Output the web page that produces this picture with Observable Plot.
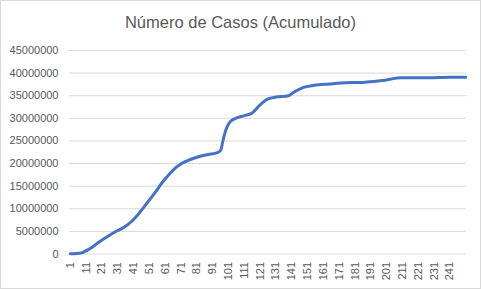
<!DOCTYPE html>
<html>
<head>
<meta charset="utf-8">
<script src="https://cdn.jsdelivr.net/npm/d3@7"></script>
<script src="https://cdn.jsdelivr.net/npm/@observablehq/plot@0.6"></script>
<style>
  html, body { margin: 0; padding: 0; background: #fff; }
  #chart { position: relative; width: 481px; height: 289px; overflow: hidden; background: #fff; }
  #title { position: absolute; left: 0; top: 0; width: 481px; height: 40px; text-align: center;
           font-family: "Liberation Sans", Arial, sans-serif; font-size: 16.5px; color: #595959; line-height: 44px; }
  #plot { position: absolute; left: 0; top: 40px; }
  #border { position: absolute; left: 0; top: 0; width: 481px; height: 289px; box-sizing: border-box;
            border: 1px solid #d9d9d9; pointer-events: none; }
</style>
</head>
<body>
<div id="chart">
  <div id="title">Número de Casos (Acumulado)</div>
  <div id="plot"></div>
  <div id="border"></div>
</div>
<script>
// Values (day, cumulative cases)
const days   = [1, 5, 8, 13, 19, 25, 31, 35, 40, 44, 48, 54, 60, 64, 67, 70, 73, 81, 88, 94, 96, 98, 100, 102, 105, 111, 116, 121, 126, 131, 139, 142, 148, 155, 165, 172, 187, 201, 210, 227, 241, 251];
const cases  = [50000, 100000, 250000, 1100000, 2600000, 4000000, 5200000, 5900000, 7300000, 8800000, 10600000, 13300000, 16200000, 17800000, 18900000, 19700000, 20300000, 21400000, 22000000, 22400000, 22900000, 25800000, 28000000, 29200000, 29900000, 30600000, 31200000, 33000000, 34300000, 34700000, 35000000, 35700000, 36800000, 37300000, 37600000, 37800000, 38000000, 38500000, 39000000, 39000000, 39100000, 39100000];
const xTicks = [1, 11, 21, 31, 41, 51, 61, 71, 81, 91, 101, 111, 121, 131, 141, 151, 161, 171, 181, 191, 201, 211, 221, 231, 241];
const yTicks = [0, 5000000, 10000000, 15000000, 20000000, 25000000, 30000000, 35000000, 40000000, 45000000];
const nDays = 251;

const data = days.map((d, i) => ({day: d, value: cases[i]}));

const chart = Plot.plot({
  width: 481,
  height: 249,
  marginLeft: 69,
  marginRight: 15,
  marginTop: 10,
  marginBottom: 35.5,
  style: {fontFamily: "'Liberation Sans', Arial, sans-serif", fontSize: "11px", color: "#595959", background: "transparent"},
  x: {domain: [0.5, nDays + 0.5]},
  y: {domain: [0, 45000000]},
  marks: [
    Plot.gridY(yTicks, {stroke: "#d9d9d9", strokeOpacity: 1, strokeWidth: 1}),
    Plot.axisY(yTicks, {tickSize: 0, tickPadding: 11, tickFormat: d3.format("d"), label: null, fill: "#595959"}),
    Plot.axisX(xTicks, {tickSize: 0, tickPadding: 8, tickRotate: -90, tickFormat: d => String(d), label: null, fill: "#595959"}),
    Plot.line(data, {x: "day", y: "value", stroke: "#4472C4", strokeWidth: 3, curve: "monotone-x", strokeLinejoin: "round", strokeLinecap: "round"})
  ]
});
document.getElementById("plot").appendChild(chart);
</script>
</body>
</html>
